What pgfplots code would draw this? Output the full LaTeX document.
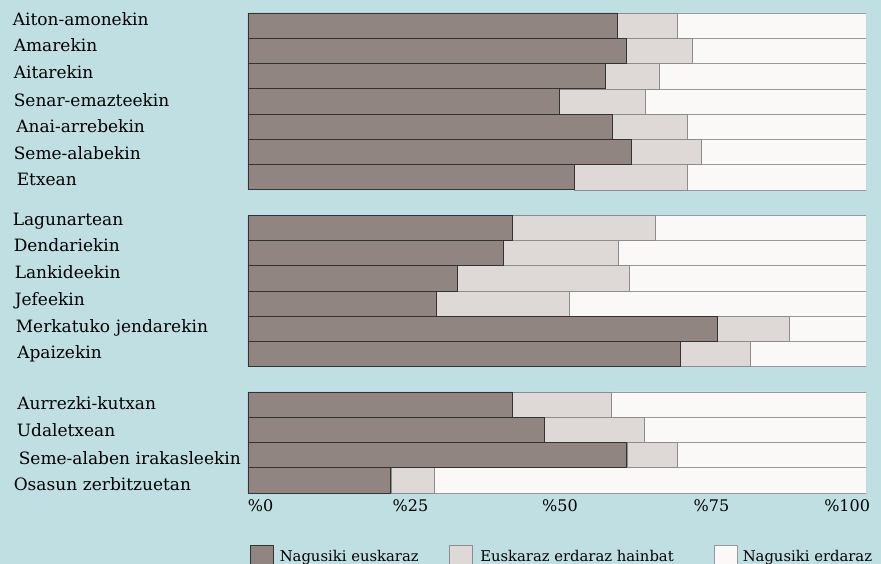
\documentclass[border=0pt]{standalone}
\usepackage{fontspec}
\setmainfont{DejaVu Serif}
\usepackage{pgfplots}
\pgfplotsset{compat=1.18}
\definecolor{bgc}{RGB}{192,223,227}
\definecolor{darkseg}{RGB}{144,133,129}
\definecolor{lightseg}{RGB}{222,217,214}
\definecolor{whiteseg}{RGB}{250,249,247}
\newcommand{\lbl}{\fontsize{17}{20}\selectfont}
\newcommand{\tck}{\fontsize{16}{19}\selectfont}
\newcommand{\lgd}{\fontsize{14.8}{18}\selectfont}
\begin{document}
\begin{tikzpicture}
\fill[bgc] (0,0) rectangle (881pt,564pt);
\begin{axis}[
  at={(248pt,71pt)}, anchor=south west,
  scale only axis, width=618pt, height=480pt,
  xmin=0, xmax=100, ymin=-0.5, ymax=18.5,
  y dir=reverse,
  xbar stacked, bar width=1,
  axis line style={draw=none},
  major tick length=0pt,
  xtick={0,25,50,75,100},
  xticklabels={\raisebox{-5pt}{\makebox[0pt][l]{\%0}},\raisebox{-2pt}{\hspace*{16pt}\%25},\hspace*{6pt}\%50,\raisebox{-1pt}{\%75},\raisebox{-1pt}{\makebox[0pt][r]{\%100\hspace*{-4pt}}}},
  xticklabel style={font=\tck, inner sep=0pt, anchor=north, yshift=-6pt},
  ytick={-0.195,0.866,1.935,3.01,4.06,5.12,6.15,7.73,8.75,9.83,10.9,11.97,13.0,15.02,16.07,17.2,18.23},
  yticklabels={Aiton-amonekin,\hspace*{1pt}Amarekin,\hspace*{1pt}Aitarekin,\hspace*{1pt}Senar-emazteekin,\hspace*{3.5pt}Anai-arrebekin,\hspace*{1pt}Seme-alabekin,\hspace*{4pt}Etxean,Lagunartean,\hspace*{1pt}Dendariekin,\hspace*{2pt}Lankideekin,\hspace*{2pt}Jefeekin,\hspace*{3pt}Merkatuko jendarekin,\hspace*{4.5pt}Apaizekin,\hspace*{4.5pt}Aurrezki-kutxan,\hspace*{4pt}Udaletxean,\hspace*{6pt}Seme-alaben irakasleekin,\hspace*{1pt}Osasun zerbitzuetan},
  yticklabel style={font=\lbl, inner sep=0pt, text width=235pt, align=left, anchor=base east, yshift=-4.4pt},
  legend columns=3,
  legend image code/.code={\draw[#1] (0pt,-7pt) rectangle (23pt,12pt);},
  legend style={at={(0.003,-0.128)}, anchor=west, draw=none, fill=none, inner sep=0pt, column sep=0pt, font=\lgd, nodes={inner sep=0pt}},
]
\addplot[fill=darkseg, draw=black!80, line width=0.7pt] coordinates {
(59.7,0) (61.2,1) (57.8,2) (50.4,3) (59.0,4) (62.0,5) (52.8,6)
(42.8,8) (41.3,9) (33.9,10) (30.5,11) (76.0,12) (69.9,13)
(42.8,15) (47.9,16) (61.3,17) (23.1,18)};
\addlegendentry{\hspace*{6pt}\makebox[169pt][l]{Nagusiki euskaraz}}
\addplot[fill=lightseg, draw=black!45, line width=0.5pt] coordinates {
(9.7,0) (10.7,1) (8.8,2) (13.8,3) (12.0,4) (11.4,5) (18.2,6)
(23.1,8) (18.6,9) (27.8,10) (21.5,11) (11.5,12) (11.3,13)
(15.9,15) (16.2,16) (8.1,17) (7.1,18)};
\addlegendentry{\hspace*{8pt}\makebox[234pt][l]{Euskaraz erdaraz hainbat}}
\addplot[fill=whiteseg, draw=black!40, line width=0.5pt] coordinates {
(30.6,0) (28.1,1) (33.4,2) (35.8,3) (29.0,4) (26.6,5) (29.0,6)
(34.1,8) (40.1,9) (38.3,10) (48.0,11) (12.5,12) (18.8,13)
(41.3,15) (35.9,16) (30.6,17) (69.8,18)};
\addlegendentry{\hspace*{5pt}Nagusiki erdaraz}
\end{axis}
\pgfresetboundingbox
\path (0,0) rectangle (881pt,564pt);
\end{tikzpicture}
\end{document}
